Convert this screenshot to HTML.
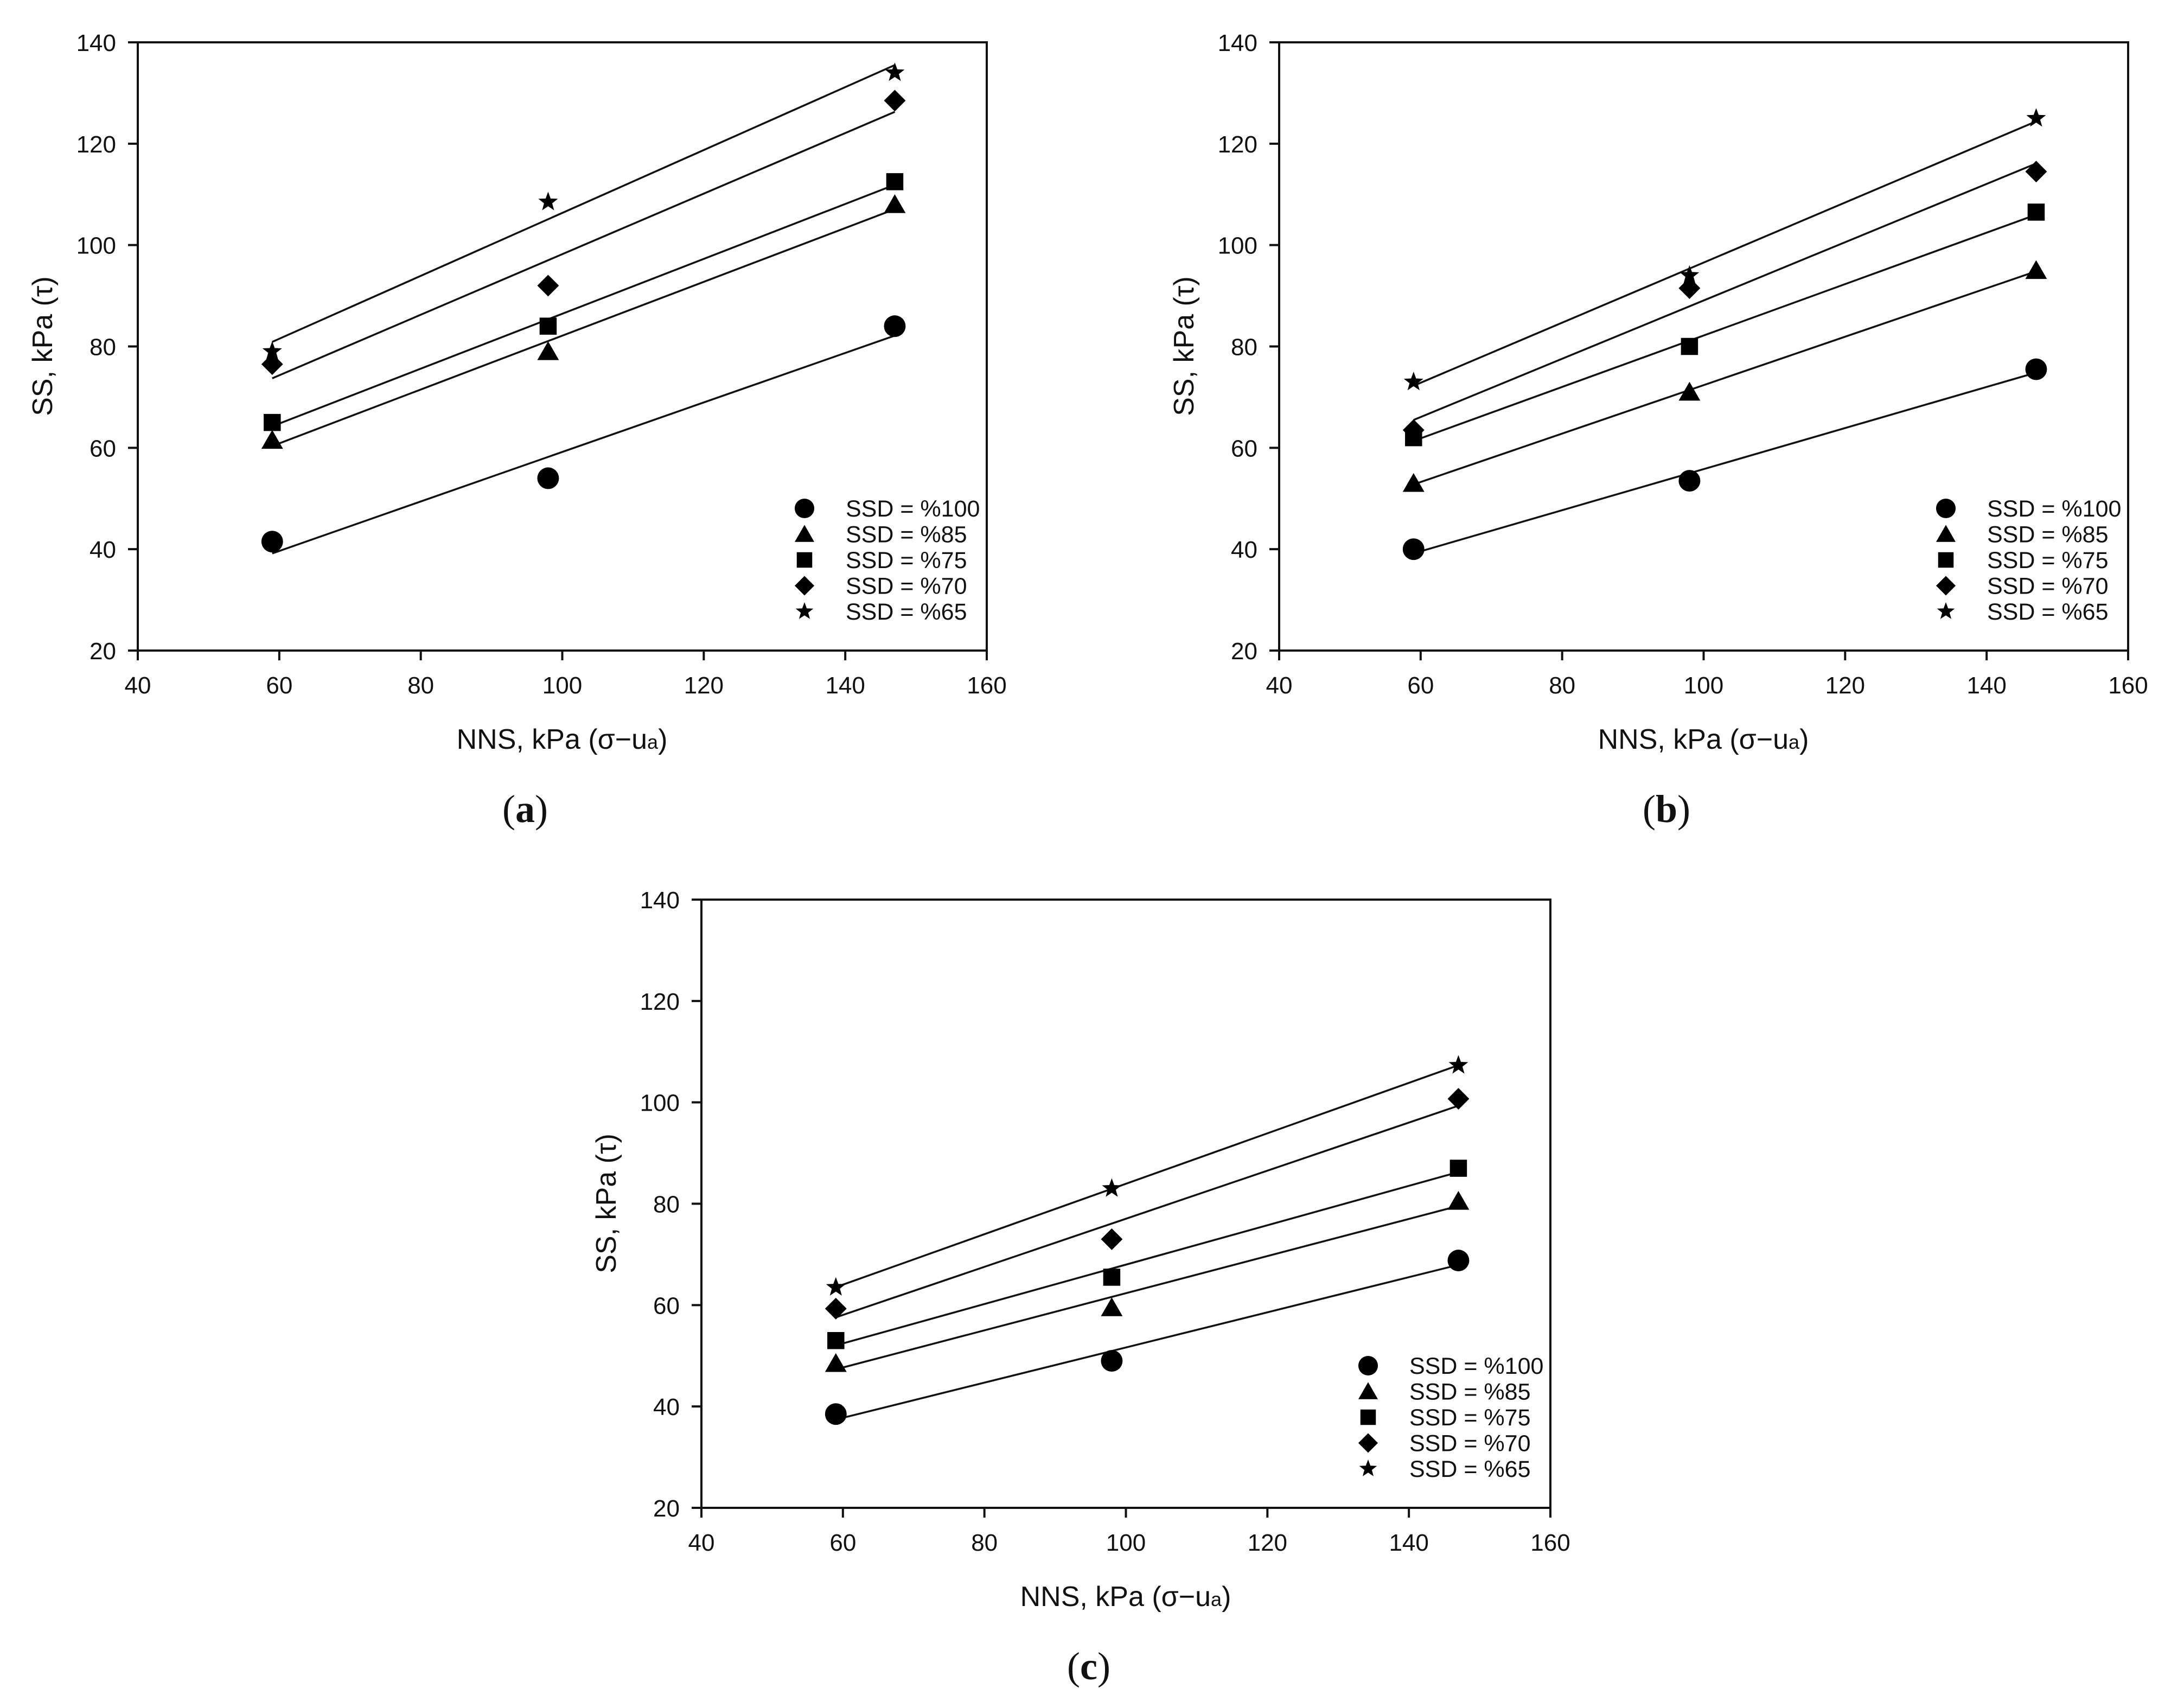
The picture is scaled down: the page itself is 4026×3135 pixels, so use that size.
<!DOCTYPE html>
<html><head><meta charset="utf-8"><style>
html,body{margin:0;padding:0;background:#fff;}
svg{display:block;}
text{font-family:"Liberation Sans",sans-serif;fill:#111;}
</style></head><body>
<svg id="fig" width="4026" height="3135" viewBox="0 0 4026 3135" xmlns="http://www.w3.org/2000/svg"></svg>
<script>
const xValues = [59, 98, 147];
const seriesLabels = ["SSD = %100","SSD = %85","SSD = %75","SSD = %70","SSD = %65"];
const seriesMarkers = ["circle","triangle","square","diamond","star"];
const xTicks = [40,60,80,100,120,140,160];
const yTicks = [20,40,60,80,100,120,140];
const panelNames = ["a","b","c"];
const panelA = [[41.5,54,84],[61.5,79,108],[65,84,112.5],[76.5,92,128.5],[79,108.5,134]];
const panelB = [[40,53.5,75.5],[53,71,95],[62,80,106.5],[63.5,91.5,114.5],[73,94,125]];
const panelC = [[38.5,49,68.8],[48.5,59.5,80.5],[53,65.5,87],[59.3,73,100.7],[63.5,83,107.3]];
const panelData = [panelA, panelB, panelC];

const NS="http://www.w3.org/2000/svg";
const svg=document.getElementById('fig');
function mk(tag,attrs,parent){const e=document.createElementNS(NS,tag);for(const k in attrs)e.setAttribute(k,attrs[k]);(parent||svg).appendChild(e);return e;}
const origins=[[254,78],[2358,78],[1293,1658]];
const W=1565,H=1121;

function marker(g,type,cx,cy,s){
  s=s||1;
  let e;
  if(type==="circle"){e=mk('circle',{cx:cx,cy:cy,r:19*s,fill:'#000'},g);}
  else if(type==="triangle"){e=mk('polygon',{points:`${cx},${cy-18*s} ${cx-19*s},${cy+15*s} ${cx+19*s},${cy+15*s}`,fill:'#000'},g);}
  else if(type==="square"){e=mk('rect',{x:cx-15*s,y:cy-15*s,width:30*s,height:30*s,fill:'#000'},g);}
  else if(type==="diamond"){e=mk('polygon',{points:`${cx},${cy-19*s} ${cx+19*s},${cy} ${cx},${cy+19*s} ${cx-19*s},${cy}`,fill:'#000'},g);}
  else {let p=[];for(let i=0;i<10;i++){const r=(i%2?7.5:18)*s;const a=-Math.PI/2+i*Math.PI/5;p.push((cx+r*Math.cos(a)).toFixed(1)+','+(cy+r*Math.sin(a)).toFixed(1));}
    e=mk('polygon',{points:p.join(' '),fill:'#000'},g);}
  return e;
}

panelData.forEach((data,pi)=>{
  const [L,T]=origins[pi];
  const xs=v=>L+(v-40)/120*W;
  const ys=v=>T+H-(v-20)/120*H;
  const g=mk('g',{});
  
  
  const frame=mk('rect',{x:L,y:T,width:W,height:H,fill:'none',stroke:'#111','stroke-width':4},g);
  
  
  xTicks.forEach(t=>{
    const x=xs(t);
    const tk=mk('line',{x1:x,y1:T+H,x2:x,y2:T+H+18,stroke:'#111','stroke-width':4},g);
    
    
    const tl=mk('text',{x:x,y:T+H+79,'font-size':44,'text-anchor':'middle'},g);
    tl.textContent=t;
    
    
  });
  yTicks.forEach(t=>{
    const y=ys(t);
    const tk=mk('line',{x1:L-18,y1:y,x2:L,y2:y,stroke:'#111','stroke-width':4},g);
    
    
    const tl=mk('text',{x:L-40,y:y+16,'font-size':44,'text-anchor':'end'},g);
    tl.textContent=t;
    
    
  });
  const xt=mk('text',{x:L+782,y:T+1302,'font-size':52,'text-anchor':'middle'},g);
  xt.innerHTML='NNS, kPa (σ−u<tspan font-size="36">a</tspan>)';
  
  
  const yt=mk('text',{x:0,y:0,'font-size':52,'text-anchor':'middle',transform:`translate(${L-158},${T+560}) rotate(-90)`},g);
  yt.textContent='SS, kPa (τ)';
  
  
  const cap=mk('text',{x:L+714,y:T+1437,'font-size':72,'text-anchor':'middle',style:'font-family:"Liberation Serif",serif'},g);
  cap.innerHTML='(<tspan font-weight="bold">'+panelNames[pi]+'</tspan>)';
  
  
  data.forEach((ys_,si)=>{
    const n=xValues.length;
    const mx=xValues.reduce((a,b)=>a+b,0)/n, my=ys_.reduce((a,b)=>a+b,0)/n;
    let sxy=0,sxx=0;for(let i=0;i<n;i++){sxy+=(xValues[i]-mx)*(ys_[i]-my);sxx+=(xValues[i]-mx)**2;}
    const b=sxy/sxx,a=my-b*mx;
    const x0=xValues[0],x1=xValues[n-1];
    const ln=mk('line',{x1:xs(x0),y1:ys(a+b*x0),x2:xs(x1),y2:ys(a+b*x1),stroke:'#111','stroke-width':3.5},g);
    
    
    ys_.forEach((v,i)=>{
      const m=marker(g,seriesMarkers[si],xs(xValues[i]),ys(v),1.05);
      
      
    });
    const ly=T+859+si*47.5;
    const lm=marker(g,seriesMarkers[si],L+1229,ly,0.95);
    
    
    const lt=mk('text',{x:L+1305,y:ly+15,'font-size':43},g);
    lt.textContent=seriesLabels[si];
    
    
  });
});
</script>
</body></html>
